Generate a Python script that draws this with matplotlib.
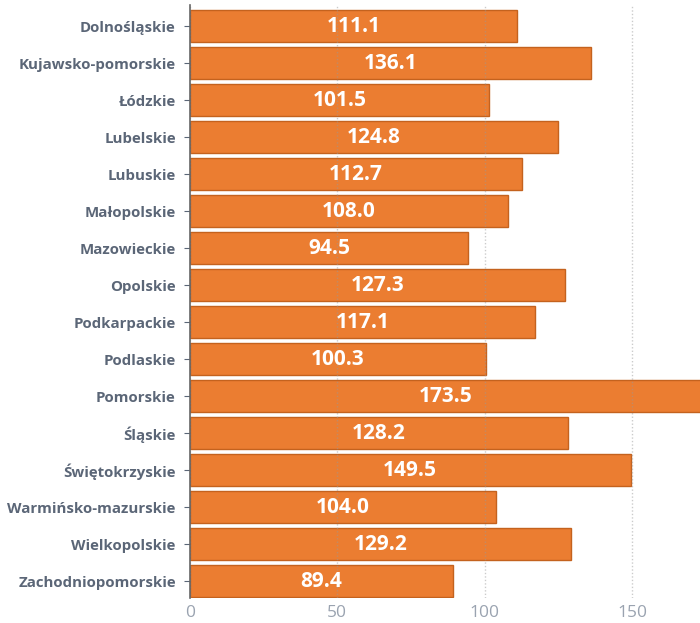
import matplotlib

matplotlib.use("Agg")
import matplotlib.pyplot as plt

regions = [
    "Dolnośląskie", "Kujawsko-pomorskie", "Łódzkie", "Lubelskie", "Lubuskie",
    "Małopolskie", "Mazowieckie", "Opolskie", "Podkarpackie", "Podlaskie",
    "Pomorskie", "Śląskie", "Świętokrzyskie", "Warmińsko-mazurskie",
    "Wielkopolskie", "Zachodniopomorskie",
]
values = [111.1, 136.1, 101.5, 124.8, 112.7, 108.0, 94.5, 127.3,
          117.1, 100.3, 173.5, 128.2, 149.5, 104.0, 129.2, 89.4]
x_ticks = [0, 50, 100, 150]

plt.rcParams["font.family"] = ["Open Sans", "DejaVu Sans"]

fig = plt.figure(figsize=(7, 6.23), dpi=100)
ax = fig.add_axes([0.271, 0.04, 0.729, 0.952])

ys = range(len(regions))
ax.barh(ys, values, height=0.88, color="#EB7D31", edgecolor="#C4621E", linewidth=1.0, zorder=2)
for y, v in zip(ys, values):
    ax.text(v / 2, y, f"{v:.1f}", ha="center", va="center", color="white",
            fontsize=15, fontweight="bold", zorder=4)

ax.set_xlim(0, 173)
ax.set_ylim(len(regions) - 0.54, -0.57)
ax.set_yticks(list(ys))
ax.set_yticklabels(regions, fontsize=10.8, fontweight="bold", color="#5B6677")
ax.set_xticks(x_ticks)
ax.set_xticklabels([str(t) for t in x_ticks], fontsize=12.5, color="#9AA3B0")
ax.tick_params(axis="y", length=4, color="#5B6677", pad=6)
ax.tick_params(axis="x", length=0, pad=5)
ax.xaxis.grid(True, linestyle=(0, (1, 1.5)), color="#999999", alpha=0.5, lw=1, zorder=3)
ax.set_axisbelow(False)
for s in ["top", "right", "bottom"]:
    ax.spines[s].set_visible(False)
ax.spines["left"].set_color("#666666")
ax.spines["left"].set_linewidth(1.2)
ax.spines["left"].set_zorder(5)

fig.savefig("out.png", dpi=100)
